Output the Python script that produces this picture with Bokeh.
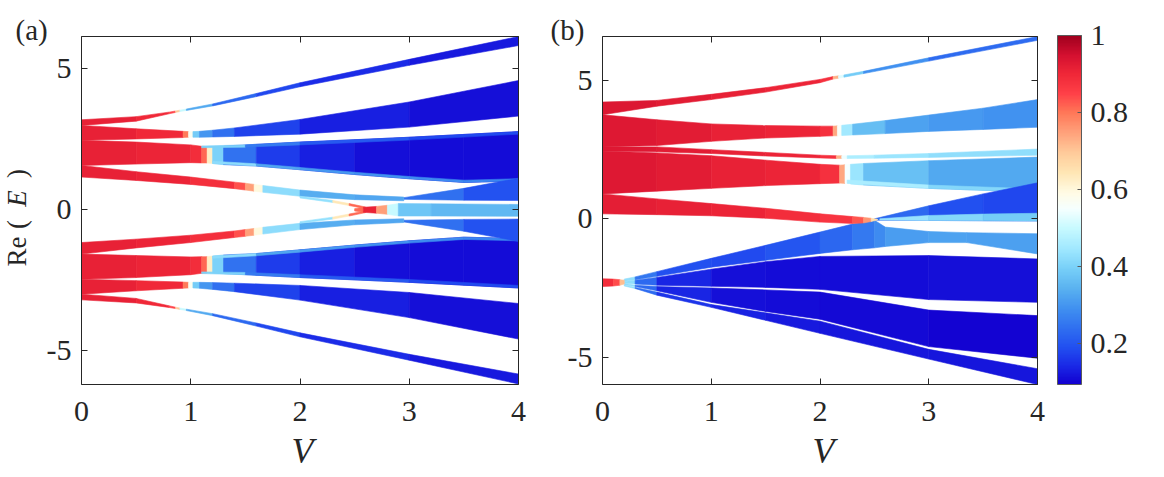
import numpy as np
from bokeh.plotting import figure
from bokeh.models import (LinearColorMapper, ColumnDataSource, LinearAxis, FixedTicker,
                          CustomJSTickFormatter, Label, Range1d)
from bokeh.layouts import row
from bokeh.embed import file_html
from bokeh.resources import INLINE

# ---------------- colour scale (value -> colour anchors) ----------------
CM_VAL = [0.094, 0.14, 0.19, 0.24, 0.29, 0.34, 0.395, 0.445, 0.50, 0.55, 0.59, 0.645,
          0.70, 0.75, 0.80, 0.85, 0.90, 0.95, 1.0]
CM_HEX = ["#1200d0", "#1a28e6", "#2250f0", "#3070f0", "#4090f0", "#58b0f0", "#78d0f8",
          "#a0e8ff", "#c8faff", "#f6ffff", "#fffce6", "#ffe6b4", "#ffc898", "#ffa07a",
          "#ff7858", "#ff4048", "#f02838", "#d41030", "#a0001e"]
C_LOW, C_HIGH = 0.094, 1.0
CB_TICKS = [0.2, 0.4, 0.6, 0.8, 1.0]

# ---------------- panel (a): bands  (V samples, upper edge, lower edge, colour value) ----------------
A1_V = [0, 0.5, 0.8, 0.86, 0.9, 0.96, 1.2, 1.6, 2, 3, 4]
A1_TOP = [3.19, 3.3, 3.46, 3.5, 3.53, 3.57, 3.75, 4.12, 4.5, 5.33, 6.14]
A1_BOT = [2.99, 3.14, 3.4, 3.45, 3.48, 3.52, 3.68, 4.01, 4.36, 5.12, 5.82]
A1_C = [0.92, 0.91, 0.89, 0.8, 0.6, 0.4, 0.26, 0.2, 0.16, 0.13, 0.12]

A2_V = [0, 0.5, 0.93, 0.98, 1.02, 1.08, 1.2, 1.4, 2, 3, 4]
A2_TOP = [2.99, 2.87, 2.78, 2.77, 2.77, 2.78, 2.82, 2.9, 3.2, 3.82, 4.58]
A2_BOT = [2.46, 2.51, 2.56, 2.57, 2.57, 2.57, 2.58, 2.6, 2.68, 2.93, 3.32]
A2_C = [0.92, 0.91, 0.89, 0.7, 0.45, 0.33, 0.27, 0.21, 0.14, 0.12, 0.11]

A3_V = [0, 0.5, 1.0, 1.1, 1.15, 1.2, 1.3, 1.6, 2, 2.5, 3, 3.5, 4]
A3_TOP = [2.46, 2.4, 2.3, 2.25, 2.24, 2.24, 2.26, 2.32, 2.4, 2.48, 2.57, 2.67, 2.77]
A3_BOT = [1.57, 1.62, 1.67, 1.66, 1.66, 1.64, 1.6, 1.55, 1.42, 1.25, 1.1, 0.97, 1.02]
A3_C = [0.92, 0.91, 0.9, 0.88, 0.75, 0.5, 0.3, 0.19, 0.14, 0.12, 0.11, 0.11, 0.11]

A3T_V = [1.1, 1.5, 2, 3, 4]
A3T_TOP = [2.26, 2.3, 2.4, 2.57, 2.77]
A3T_BOT = [2.2, 2.22, 2.3, 2.47, 2.68]
A3T_C = [0.5, 0.3, 0.22, 0.19, 0.18]

A3S_V = [1.2, 1.6, 2, 2.5, 3, 3.5, 4]
A3S_TOP = [1.72, 1.63, 1.5, 1.33, 1.18, 1.05, 1.1]
A3S_BOT = [1.64, 1.55, 1.42, 1.25, 1.1, 0.97, 1.02]
A3S_C = [0.5, 0.34, 0.31, 0.3, 0.29, 0.28, 0.27]

A4_V = [0, 0.5, 1.0, 1.4, 1.5, 1.58, 1.66, 2.0, 2.5, 2.95]
A4_TOP = [1.57, 1.35, 1.16, 0.98, 0.94, 0.9, 0.86, 0.7, 0.53, 0.45]
A4_BOT = [1.16, 1.04, 0.9, 0.75, 0.7, 0.66, 0.62, 0.48, 0.36, 0.32]
A4_C = [0.92, 0.91, 0.9, 0.87, 0.8, 0.7, 0.5, 0.34, 0.33, 0.32]

A4I_V = [2.0, 2.3, 2.45, 2.6]
A4I_TOP = [0.48, 0.33, 0.22, 0.1]
A4I_BOT = [0.42, 0.26, 0.15, 0.04]
A4I_C = [0.36, 0.5, 0.78, 0.85]

A5_V = [2.5, 2.58, 2.7, 2.8, 2.9, 3.2, 4]
A5_TOP = [0.04, 0.09, 0.12, 0.16, 0.22, 0.21, 0.19]
A5_BOT = [-0.04, -0.09, -0.12, -0.16, -0.22, -0.22, -0.23]
A5_C = [0.7, 0.92, 0.9, 0.6, 0.4, 0.36, 0.35]

A6_V = [2.95, 3.5, 4]
A6_TOP = [0.43, 0.76, 1.12]
A6_BOT = [0.37, 0.34, 0.33]
A6_C = [0.28, 0.2, 0.19]

# lower half of panel (a)
A1M_TOP = [-2.99, -3.14, -3.4, -3.45, -3.48, -3.52, -3.68, -4.01, -4.36, -5.12, -5.82]
A1M_BOT = [-3.19, -3.3, -3.46, -3.5, -3.53, -3.57, -3.75, -4.12, -4.5, -5.33, -6.17]
A2M_TOP = [-2.46, -2.51, -2.56, -2.57, -2.57, -2.57, -2.58, -2.6, -2.68, -2.93, -3.32]
A2M_BOT = [-2.99, -2.87, -2.78, -2.77, -2.77, -2.78, -2.82, -2.9, -3.2, -3.82, -4.58]
A3M_TOP = [-1.57, -1.62, -1.67, -1.66, -1.66, -1.64, -1.6, -1.55, -1.42, -1.25, -1.1, -0.97, -1.02]
A3M_BOT = [-2.46, -2.4, -2.3, -2.25, -2.24, -2.24, -2.26, -2.32, -2.4, -2.48, -2.57, -2.67, -2.77]
A3TM_TOP = [-2.2, -2.22, -2.3, -2.47, -2.68]
A3TM_BOT = [-2.26, -2.3, -2.4, -2.57, -2.77]
A3SM_TOP = [-1.64, -1.55, -1.42, -1.25, -1.1, -0.97, -1.02]
A3SM_BOT = [-1.72, -1.63, -1.5, -1.33, -1.18, -1.05, -1.1]
A4M_TOP = [-1.16, -1.04, -0.9, -0.75, -0.7, -0.66, -0.62, -0.48, -0.36, -0.32]
A4M_BOT = [-1.57, -1.35, -1.16, -0.98, -0.94, -0.9, -0.86, -0.7, -0.53, -0.45]
A4IM_TOP = [-0.42, -0.26, -0.15, -0.04]
A4IM_BOT = [-0.48, -0.33, -0.22, -0.1]
A6M_TOP = [-0.37, -0.34, -0.33]
A6M_BOT = [-0.43, -0.76, -1.12]

# ---------------- panel (b): bands ----------------
B1_V = [0, 0.5, 1, 1.5, 2, 2.12, 2.17, 2.22, 2.4, 3, 4]
B1_TOP = [4.22, 4.28, 4.5, 4.74, 5.04, 5.14, 5.17, 5.2, 5.33, 5.82, 6.59]
B1_BOT = [3.76, 4.07, 4.31, 4.58, 4.92, 5.05, 5.08, 5.12, 5.25, 5.7, 6.45]
B1_C = [0.94, 0.93, 0.92, 0.91, 0.9, 0.86, 0.6, 0.45, 0.33, 0.25, 0.22]

B2_V = [0, 0.5, 1, 1.5, 2, 2.12, 2.16, 2.2, 2.3, 2.6, 3, 3.5, 4]
B2_TOP = [3.76, 3.58, 3.43, 3.37, 3.35, 3.35, 3.36, 3.38, 3.42, 3.55, 3.75, 4.0, 4.31]
B2_BOT = [2.6, 2.65, 2.8, 2.92, 2.98, 3.0, 3.0, 3.01, 3.03, 3.08, 3.16, 3.23, 3.31]
B2_C = [0.93, 0.93, 0.92, 0.91, 0.9, 0.86, 0.62, 0.5, 0.4, 0.33, 0.31, 0.3, 0.29]

B3_V = [0, 0.5, 1, 1.5, 2, 2.15, 2.2, 2.25, 2.5, 3, 4]
B3_TOP = [2.6, 2.6, 2.5, 2.4, 2.3, 2.28, 2.28, 2.28, 2.3, 2.36, 2.52]
B3_BOT = [2.45, 2.42, 2.36, 2.27, 2.2, 2.18, 2.18, 2.18, 2.19, 2.22, 2.3]
B3_C = [0.93, 0.93, 0.92, 0.91, 0.9, 0.86, 0.6, 0.48, 0.45, 0.43, 0.42]

B4_V = [0, 0.5, 1, 1.5, 2, 2.18, 2.23, 2.28, 2.4, 3, 4]
B4_TOP = [2.45, 2.38, 2.28, 2.12, 1.97, 1.94, 1.95, 1.97, 2.0, 2.1, 2.23]
B4_BOT = [0.9, 1.0, 1.1, 1.2, 1.27, 1.29, 1.28, 1.26, 1.22, 1.1, 0.96]
B4_C = [0.93, 0.93, 0.92, 0.91, 0.9, 0.86, 0.62, 0.48, 0.4, 0.34, 0.32]

B4S_V = [2.25, 3, 4]
B4S_TOP = [1.4, 1.22, 1.08]
B4S_BOT = [1.28, 1.1, 0.96]
B4S_C = [0.5, 0.42, 0.4]

B5_V = [0, 0.5, 1, 1.5, 2, 2.3, 2.4, 2.47, 2.53]
B5_TOP = [0.9, 0.72, 0.55, 0.38, 0.18, 0.08, 0.05, 0.02, -0.02]
B5_BOT = [0.18, 0.15, 0.11, 0.02, -0.12, -0.17, -0.15, -0.1, -0.04]
B5_C = [0.92, 0.92, 0.91, 0.9, 0.88, 0.86, 0.8, 0.72, 0.6]

B0_V = [0, 0.1, 0.16, 0.2]
B0_TOP = [-2.17, -2.18, -2.2, -2.22]
B0_BOT = [-2.45, -2.43, -2.4, -2.36]
B0_C = [0.9, 0.88, 0.8, 0.62]

B7_V = [2.5, 3, 3.5, 4]
B7_TOP = [0.0, 0.47, 0.9, 1.3]
B7_BOT = [-0.05, -0.06, -0.07, -0.08]
B7_C = [0.26, 0.2, 0.18, 0.18]

B7S_V = [2.55, 3, 3.5, 4]
B7S_TOP = [0.0, 0.12, 0.17, 0.2]
B7S_BOT = [-0.04, -0.06, -0.07, -0.08]
B7S_C = [0.45, 0.42, 0.4, 0.38]

BF_V = [0.2, 0.3, 0.5, 1, 1.5, 2, 2.3, 2.5, 2.6, 3, 3.35, 4]
BF_TOP = [-2.18, -2.1, -1.91, -1.43, -0.96, -0.48, -0.19, -0.05, -0.3, -0.46, -0.5, -0.54]
BF_BOT = [-2.26, -2.2, -2.08, -1.75, -1.5, -1.25, -1.12, -1.05, -1.0, -0.86, -0.86, -1.27]
BF_C = [0.55, 0.3, 0.2, 0.18, 0.19, 0.21, 0.24, 0.27, 0.3, 0.32, 0.32, 0.31]

B9_V = [0.2, 0.3, 0.5, 1, 1.5, 2, 3, 4]
B9_TOP = [-2.27, -2.22, -2.12, -1.82, -1.55, -1.36, -1.33, -1.45]
B9_BOT = [-2.33, -2.36, -2.4, -2.44, -2.48, -2.55, -2.92, -3.02]
B9_C = [0.55, 0.3, 0.16, 0.12, 0.11, 0.11, 0.11, 0.12]

B10_V = [0.2, 0.3, 0.5, 1, 1.5, 2, 3, 4]
B10_TOP = [-2.34, -2.4, -2.45, -2.5, -2.57, -2.65, -3.3, -3.5]
B10_BOT = [-2.38, -2.45, -2.6, -3.02, -3.35, -3.63, -4.62, -5.04]
B10_C = [0.55, 0.3, 0.16, 0.12, 0.11, 0.11, 0.1, 0.1]

B11_V = [0.2, 0.3, 0.5, 1, 1.5, 2, 3, 4]
B11_TOP = [-2.39, -2.48, -2.65, -3.1, -3.4, -3.7, -4.72, -5.42]
B11_BOT = [-2.43, -2.52, -2.76, -3.2, -3.67, -4.14, -5.07, -5.99]
B11_C = [0.55, 0.3, 0.17, 0.14, 0.13, 0.12, 0.12, 0.12]

X_TICKS = [0, 1, 2, 3, 4]
Y_TICKS = [-5, 0, 5]
V_LIM = (0, 4)
E_LIM_A = (-6.19, 6.14)
E_LIM_B = (-5.99, 6.59)

BANDS_A = [
    (A1_V, A1_TOP, A1_BOT, A1_C), (A1_V, A1M_TOP, A1M_BOT, A1_C),
    (A2_V, A2_TOP, A2_BOT, A2_C), (A2_V, A2M_TOP, A2M_BOT, A2_C),
    (A3_V, A3_TOP, A3_BOT, A3_C), (A3_V, A3M_TOP, A3M_BOT, A3_C),
    (A3T_V, A3T_TOP, A3T_BOT, A3T_C), (A3T_V, A3TM_TOP, A3TM_BOT, A3T_C),
    (A3S_V, A3S_TOP, A3S_BOT, A3S_C), (A3S_V, A3SM_TOP, A3SM_BOT, A3S_C),
    (A6_V, A6_TOP, A6_BOT, A6_C), (A6_V, A6M_TOP, A6M_BOT, A6_C),
    (A4_V, A4_TOP, A4_BOT, A4_C), (A4_V, A4M_TOP, A4M_BOT, A4_C),
    (A4I_V, A4I_TOP, A4I_BOT, A4I_C), (A4I_V, A4IM_TOP, A4IM_BOT, A4I_C),
    (A5_V, A5_TOP, A5_BOT, A5_C),
]
BANDS_B = [
    (B1_V, B1_TOP, B1_BOT, B1_C), (B2_V, B2_TOP, B2_BOT, B2_C),
    (B3_V, B3_TOP, B3_BOT, B3_C), (B4_V, B4_TOP, B4_BOT, B4_C),
    (B4S_V, B4S_TOP, B4S_BOT, B4S_C),
    (B7_V, B7_TOP, B7_BOT, B7_C), (B7S_V, B7S_TOP, B7S_BOT, B7S_C),
    (BF_V, BF_TOP, BF_BOT, BF_C), (B9_V, B9_TOP, B9_BOT, B9_C),
    (B10_V, B10_TOP, B10_BOT, B10_C), (B11_V, B11_TOP, B11_BOT, B11_C),
    (B5_V, B5_TOP, B5_BOT, B5_C), (B0_V, B0_TOP, B0_BOT, B0_C),
]

# ---------------- palette ----------------
def hex2rgb(h):
    return [int(h[i:i + 2], 16) for i in (1, 3, 5)]

_rgb = np.array([hex2rgb(h) for h in CM_HEX], dtype=float)
_vals = np.linspace(C_LOW, C_HIGH, 256)
PALETTE = []
for v in _vals:
    r = np.interp(v, CM_VAL, _rgb[:, 0]); g = np.interp(v, CM_VAL, _rgb[:, 1]); b = np.interp(v, CM_VAL, _rgb[:, 2])
    PALETTE.append("#%02x%02x%02x" % (int(round(r)), int(round(g)), int(round(b))))
mapper = LinearColorMapper(palette=PALETTE, low=C_LOW, high=C_HIGH)

FONT = "Liberation Serif"
INK = "#262626"
CANVAS_H = 474
BOX_TOP, BOX_BOTTOM = 36, 384


def band_source(bands):
    xs, ys, cs = [], [], []
    for V, top, bot, c in bands:
        for i in range(len(V) - 1):
            xs.append([V[i], V[i + 1], V[i + 1], V[i]])
            ys.append([top[i], top[i + 1], bot[i + 1], bot[i]])
            cs.append(0.5 * (c[i] + c[i + 1]))
    return ColumnDataSource(dict(xs=xs, ys=ys, c=cs))


def style_axis(ax, standoff, size="30px", color=INK, tick_in=6):
    ax.major_tick_in = tick_in
    ax.major_tick_out = 0
    ax.minor_tick_line_color = None
    ax.axis_line_color = color
    ax.axis_line_width = 1
    ax.major_tick_line_color = color
    ax.major_label_text_font = FONT
    ax.major_label_text_font_size = size
    ax.major_label_text_color = INK
    ax.major_label_standoff = standoff


def full_canvas_figure(xlim, ylim, width, box_left, box_right, box_top, box_bottom):
    """The whole canvas is the plotting frame; the visible box xlim x ylim sits at
    pixels box_left..box_right (x) and box_top..box_bottom (y)."""
    ppx = (box_right - box_left) / (xlim[1] - xlim[0])
    ppy = (box_bottom - box_top) / (ylim[1] - ylim[0])
    xr = Range1d(xlim[0] - box_left / ppx, xlim[1] + (width - box_right) / ppx)
    yr = Range1d(ylim[0] - (CANVAS_H - box_bottom) / ppy, ylim[1] + box_top / ppy)
    p = figure(x_range=xr, y_range=yr, width=width, height=CANVAS_H,
               min_border=0, min_border_left=0, min_border_right=0,
               min_border_top=0, min_border_bottom=0,
               x_axis_location=None, y_axis_location=None,
               toolbar_location=None, output_backend="svg",
               background_fill_color="white", border_fill_color="white",
               outline_line_color=None)
    p.grid.visible = False
    return p, (ppx, ppy, xr, yr)


def make_panel(bands, ylim, width, box_left, box_right):
    p, geo = full_canvas_figure(V_LIM, ylim, width, box_left, box_right, BOX_TOP, BOX_BOTTOM)
    src = band_source(bands)
    cmap = {"field": "c", "transform": mapper}
    p.patches("xs", "ys", source=src, fill_color=cmap, line_color=cmap, line_width=0.6)

    fmt = CustomJSTickFormatter(code="return tick.toFixed(0);")
    blank = CustomJSTickFormatter(code="return '';")
    xb = LinearAxis(fixed_location=ylim[0], bounds=V_LIM, ticker=FixedTicker(ticks=X_TICKS), formatter=fmt)
    style_axis(xb, 17)
    p.add_layout(xb, "below")
    yl = LinearAxis(fixed_location=V_LIM[0], bounds=ylim, ticker=FixedTicker(ticks=Y_TICKS), formatter=fmt)
    style_axis(yl, 10)
    p.add_layout(yl, "left")
    xt = LinearAxis(fixed_location=ylim[1], bounds=V_LIM, ticker=FixedTicker(ticks=X_TICKS), formatter=blank)
    style_axis(xt, 0, "1px")
    p.add_layout(xt, "above")
    yr_ax = LinearAxis(fixed_location=V_LIM[1], bounds=ylim, ticker=FixedTicker(ticks=Y_TICKS), formatter=blank)
    style_axis(yr_ax, 0, "1px")
    p.add_layout(yr_ax, "right")
    return p, geo


def lab(p, geo, x0, text, px, py, size, style="normal", angle=0, align="left"):
    """Place a text whose box centre (across the text) is at page pixel (px, py);
    x0 = page x of this canvas."""
    ppx, ppy, xr, yr = geo
    x = xr.start + (px - x0) / ppx
    y = yr.end - py / ppy
    p.add_layout(Label(x=x, y=y, text=text, text_font=FONT, text_font_size=size,
                       text_font_style=style, text_color=INK, angle=angle, angle_units="deg",
                       text_align=align, text_baseline="middle"))


pa, geo_a = make_panel(BANDS_A, E_LIM_A, 538, 81, 518)
pb, geo_b = make_panel(BANDS_B, E_LIM_B, 509, 64, 499)

lab(pa, geo_a, 0, "(a)", 15, 29, "29px")
lab(pa, geo_a, 0, "V", 302, 450, "36px", "italic", 0, "center")
for txt, yy, sty in [("Re", 251, "normal"), ("(", 224, "normal"),
                     ("E", 198, "italic"), (")", 173, "normal")]:
    lab(pa, geo_a, 0, txt, 16, yy, "27px", sty, 90, "center")
lab(pb, geo_b, 538, "(b)", 550, 29, "29px")
lab(pb, geo_b, 538, "V", 823, 450, "36px", "italic", 0, "center")

# colour bar: its own small plot, drawn through the same colour mapper
pc, geo_c = full_canvas_figure((0, 1), (C_LOW, C_HIGH), 94, 10, 34, 35, 384)
grad = np.linspace(C_LOW, C_HIGH, 256).reshape(-1, 1)
pc.image(image=[grad], x=0, y=C_LOW, dw=1, dh=C_HIGH - C_LOW, color_mapper=mapper)
cb_edge = "#5a5a5a"
cb_left = LinearAxis(fixed_location=0, bounds=(C_LOW, C_HIGH), ticker=FixedTicker(ticks=[]),
                     formatter=CustomJSTickFormatter(code="return '';"))
style_axis(cb_left, 0, "1px", cb_edge, 0)
pc.add_layout(cb_left, "left")
cb_right = LinearAxis(fixed_location=1, bounds=(C_LOW, C_HIGH), ticker=FixedTicker(ticks=CB_TICKS),
                      formatter=CustomJSTickFormatter(code="return tick > 0.99 ? '1' : tick.toFixed(1);"))
style_axis(cb_right, 9, "30px", cb_edge, 4)
pc.add_layout(cb_right, "right")
cb_top = LinearAxis(fixed_location=C_HIGH, bounds=(0, 1), ticker=FixedTicker(ticks=[]),
                    formatter=CustomJSTickFormatter(code="return '';"))
style_axis(cb_top, 0, "1px", cb_edge, 0)
pc.add_layout(cb_top, "above")
cb_bot = LinearAxis(fixed_location=C_LOW, bounds=(0, 1), ticker=FixedTicker(ticks=[]),
                    formatter=CustomJSTickFormatter(code="return '';"))
style_axis(cb_bot, 0, "1px", cb_edge, 0)
pc.add_layout(cb_bot, "below")

layout = row(pa, pb, pc)
open("out.html", "w").write(file_html(layout, INLINE))
